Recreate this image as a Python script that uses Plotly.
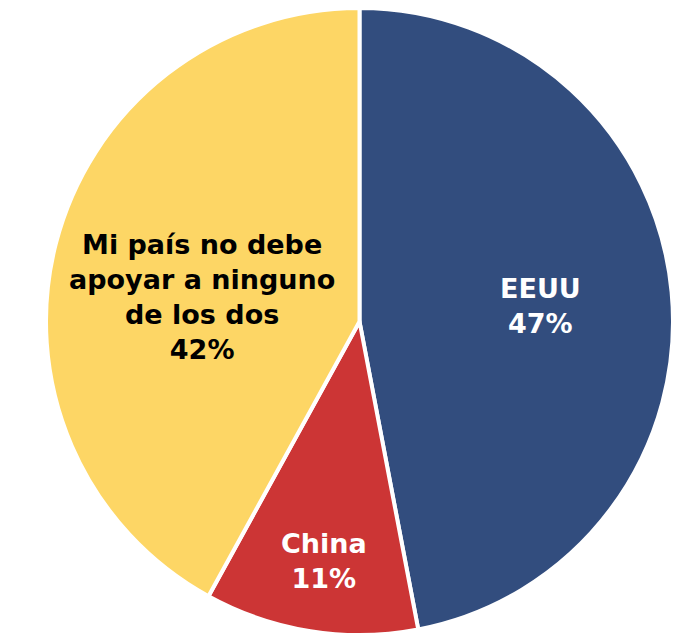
import plotly.graph_objects as go

labels = ["EEUU", "China", "Mi país no debe<br>apoyar a ninguno<br>de los dos"]
values = [47, 11, 42]
colors = ["#324D7E", "#CC3535", "#FDD665"]
text_colors = ["#FFFFFF", "#FFFFFF", "#000000"]
# label anchor positions (paper fraction) for each slice's text
label_x = [0.788, 0.4434, 0.2488]
label_y = [0.5247, 0.118, 0.539]

fig = go.Figure(go.Pie(
    labels=labels,
    values=values,
    sort=False,
    direction="clockwise",
    rotation=0,
    marker=dict(colors=colors, line=dict(color="#FFFFFF", width=4)),
    textinfo="none",
    showlegend=False,
    hoverinfo="skip",
))

total = sum(values)
for lab, val, col, x, y in zip(labels, values, text_colors, label_x, label_y):
    fig.add_annotation(
        text=f"<b>{lab}<br>{round(100 * val / total)}%</b>",
        x=x, y=y, xref="paper", yref="paper",
        xanchor="center", yanchor="middle",
        showarrow=False, align="center",
        font=dict(family="DejaVu Sans, sans-serif", size=27, color=col),
    )

fig.update_layout(
    width=677,
    height=627,
    margin=dict(l=38, r=12, t=0, b=0),
    paper_bgcolor="#FFFFFF",
    plot_bgcolor="#FFFFFF",
)

fig.write_html("out.html")
